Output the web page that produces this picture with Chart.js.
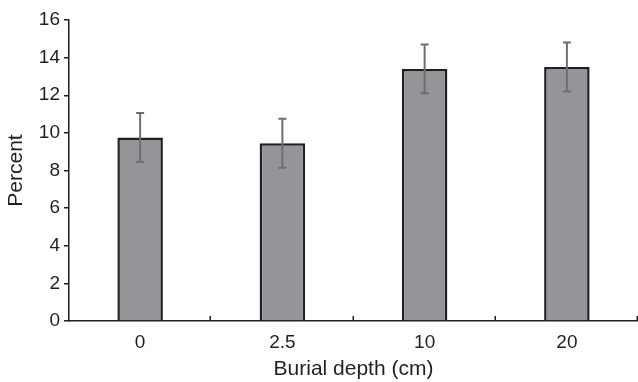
<!DOCTYPE html>
<html>
<head>
<meta charset="utf-8">
<script src="https://cdn.jsdelivr.net/npm/chart.js@4/dist/chart.umd.min.js"></script>
<style>
  html, body { margin: 0; padding: 0; background: #fff; }
  #wrap { width: 638px; height: 382px; }
</style>
</head>
<body>
<div id="wrap"><canvas id="chart" width="638" height="382"></canvas></div>
<script>
// du lieu doc tu hinh
var depths = ["0", "2.5", "10", "20"];
var percents = [9.75, 9.45, 13.4, 13.5];
var errors = [1.3, 1.3, 1.3, 1.3];
var yTicks = [0, 2, 4, 6, 8, 10, 12, 14, 16];

var fontFam = "'Liberation Sans', Arial, Helvetica, sans-serif";
var ink = "#231f20";

// ve thanh sai so + vach chia truc x huong vao trong
var errorBarPlugin = {
	id: "errorBars",
	afterDatasetsDraw: function(chart) {
		var ctx = chart.ctx;
		var x = chart.scales.x;
		var y = chart.scales.y;
		var meta = chart.getDatasetMeta(0);
		ctx.save();
		ctx.strokeStyle = "#6d6e70";
		ctx.lineWidth = 2;
		meta.data.forEach(function(bar, i) {
			var cx = bar.x;
			var top = y.getPixelForValue(percents[i] + errors[i]);
			var bot = y.getPixelForValue(percents[i] - errors[i]);
			ctx.beginPath();
			ctx.moveTo(cx, top);
			ctx.lineTo(cx, bot);
			ctx.moveTo(cx - 4, top);
			ctx.lineTo(cx + 4, top);
			ctx.moveTo(cx - 4, bot);
			ctx.lineTo(cx + 4, bot);
			ctx.stroke();
		});
		// vach chia giua cac nhom
		ctx.strokeStyle = ink;
		ctx.lineWidth = 1.5;
		var step = (x.right - x.left) / depths.length;
		for (var k = 1; k <= depths.length; k++) {
			var px = Math.round(x.left + k * step) - 0.75;
			ctx.beginPath();
			ctx.moveTo(px, y.bottom);
			ctx.lineTo(px, y.bottom - 5);
			ctx.stroke();
		}
		ctx.restore();
	}
};

var ctx = document.getElementById("chart").getContext("2d");
var myChart = new Chart(ctx, {
	type: "bar",
	data: {
		labels: depths,
		datasets: [{
			data: percents,
			backgroundColor: "#939598",
			borderColor: ink,
			borderWidth: 2.5,
			borderSkipped: "bottom",
			categoryPercentage: 1,
			barPercentage: 0.32
		}]
	},
	options: {
		responsive: false,
		animation: false,
		devicePixelRatio: 1,
		layout: { padding: { top: 20, right: 0, left: 0, bottom: 0 } },
		plugins: {
			legend: { display: false },
			tooltip: { enabled: false }
		},
		scales: {
			x: {
				grid: { display: false, drawTicks: false },
				border: { color: ink, width: 1.5 },
				ticks: {
					color: ink,
					padding: 10,
					font: { family: fontFam, size: 19 }
				},
				title: {
					display: true,
					text: "Burial depth (cm)",
					color: ink,
					padding: { top: 1, bottom: 0 },
					font: { family: fontFam, size: 21 }
				},
				afterFit: function(scale) { scale.height = 61; }
			},
			y: {
				min: 0,
				max: 16,
				afterBuildTicks: function(scale) {
					scale.ticks = yTicks.map(function(v) { return { value: v }; });
				},
				grid: {
					drawOnChartArea: false,
					drawTicks: true,
					tickLength: 5,
					color: ink,
					lineWidth: 1.5
				},
				border: { color: ink, width: 1.5 },
				ticks: {
					color: ink,
					padding: 4,
					font: { family: fontFam, size: 19 }
				},
				title: {
					display: true,
					text: "Percent",
					color: ink,
					padding: { top: 4, bottom: 0 },
					font: { family: fontFam, size: 21 }
				},
				afterFit: function(scale) { scale.width = 69; }
			}
		}
	},
	plugins: [errorBarPlugin]
});
</script>
</body>
</html>
